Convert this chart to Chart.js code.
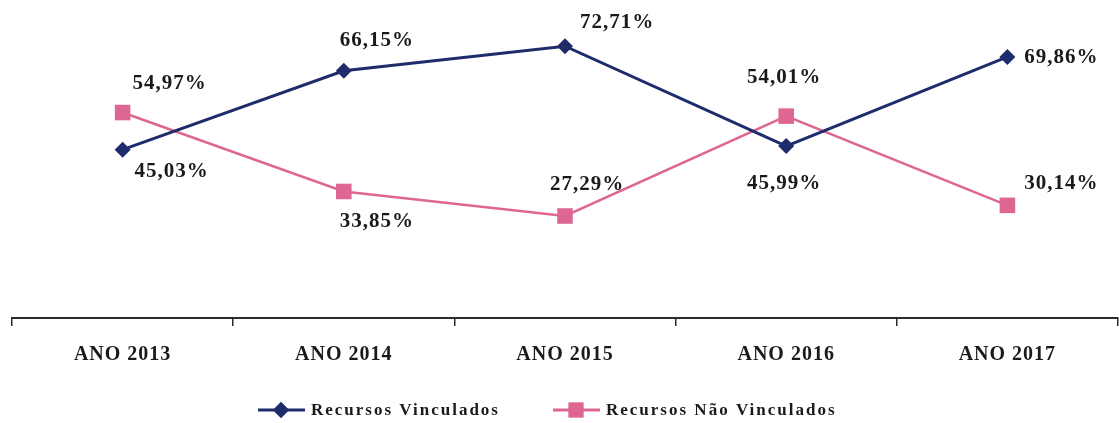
<!DOCTYPE html>
<html>
<head>
<meta charset="utf-8">
<script src="https://cdn.jsdelivr.net/npm/chart.js@4"></script>
<style>
  html, body { margin: 0; padding: 0; background: #fff; overflow: hidden; }
  #wrap { width: 1119px; height: 423px; position: relative; }
  #chart { display: block; }
</style>
</head>
<body>
<div id="wrap"><canvas id="chart"></canvas></div>
<script>
'use strict';

// ---- data ----
const years = ['ANO 2013', 'ANO 2014', 'ANO 2015', 'ANO 2016', 'ANO 2017'];
const vinculados = [45.03, 66.15, 72.71, 45.99, 69.86];
const naoVinculados = [54.97, 33.85, 27.29, 54.01, 30.14];
const seriesNames = ['Recursos Vinculados', 'Recursos Não Vinculados'];

// label offsets (px from point) per series
const labelOffsets = [
    [[49, 22], [33, -30], [52, -24], [-2, 37], [54, 1]],
    [[47, -29], [33, 30], [22, -31], [-2, -39], [54, -22]]
];

const NAVY = '#1f2c6b';
const PINK = '#dd6792';
const SERIF = "'Liberation Serif', 'Times New Roman', serif";

const fmt = v => v.toFixed(2).replace('.', ',') + '%';

const spacing = {
    id: 'spacing',
    beforeLayout: c => { c.ctx.letterSpacing = '1px'; },
    beforeDraw: c => { c.ctx.letterSpacing = '1px'; }
};

const valueLabels = {
    id: 'valueLabels',
    afterDatasetsDraw(chart) {
        const ctx = chart.ctx;
        ctx.save();
        ctx.letterSpacing = '1px';
        ctx.font = `bold 21px ${SERIF}`;
        ctx.fillStyle = '#1a1a1a';
        ctx.textAlign = 'center';
        ctx.textBaseline = 'middle';
        chart.data.datasets.forEach((ds, di) => {
            chart.getDatasetMeta(di).data.forEach((pt, i) => {
                const [dx, dy] = labelOffsets[di][i];
                ctx.fillText(fmt(ds.data[i]), pt.x + dx, pt.y + dy);
            });
        });
        ctx.restore();
    }
};

// legend with line + marker, like the office-style original
const lineLegend = {
    id: 'lineLegend',
    afterDraw(chart) {
        const ctx = chart.ctx;
        const items = [
            { x: 258, color: NAVY, style: 'rectRot', r: 8, text: seriesNames[0] },
            { x: 553, color: PINK, style: 'rect', r: 10.5, text: seriesNames[1] }
        ];
        const y = 410;
        ctx.save();
        items.forEach(it => {
            ctx.strokeStyle = it.color;
            ctx.lineWidth = 3;
            ctx.beginPath();
            ctx.moveTo(it.x, y);
            ctx.lineTo(it.x + 47, y);
            ctx.stroke();
            ctx.fillStyle = it.color;
            Chart.helpers.drawPoint(ctx, { pointStyle: it.style, radius: it.r, borderWidth: 0 }, it.x + 23, y);
            ctx.fill();
            ctx.letterSpacing = '2px';
            ctx.font = `bold 17px ${SERIF}`;
            ctx.fillStyle = '#1a1a1a';
            ctx.textAlign = 'left';
            ctx.textBaseline = 'middle';
            ctx.fillText(it.text, it.x + 53, y + 1);
        });
        ctx.restore();
    }
};

new Chart(document.getElementById('chart'), {
    type: 'line',
    data: {
        labels: years,
        datasets: [
            {
                label: seriesNames[0],
                data: vinculados,
                borderColor: NAVY,
                backgroundColor: NAVY,
                borderWidth: 3,
                pointStyle: 'rectRot',
                pointRadius: 8,
                pointBorderWidth: 0,
                tension: 0
            },
            {
                label: seriesNames[1],
                data: naoVinculados,
                borderColor: PINK,
                backgroundColor: PINK,
                borderWidth: 2.5,
                pointStyle: 'rect',
                pointRadius: 11,
                pointBorderWidth: 0,
                tension: 0
            }
        ]
    },
    options: {
        responsive: true, maintainAspectRatio: false,
        animation: false,
        layout: { autoPadding: false, padding: { top: 19, left: 12, right: 1, bottom: 39 } },
        plugins: {
            legend: { display: false },
            tooltip: { enabled: false }
        },
        scales: {
            x: {
                offset: true,
                grid: { offset: true, drawOnChartArea: false, drawTicks: true, tickLength: 8, color: '#2a2a2a', lineWidth: 1.5 },
                border: { color: '#2a2a2a', width: 2 },
                ticks: { color: '#1a1a1a', font: { family: SERIF, size: 20, weight: 'bold' }, padding: 17 }
            },
            y: {
                display: false,
                min: 0, max: 80
            }
        }
    },
    plugins: [spacing, valueLabels, lineLegend]
});
</script>
</body>
</html>
